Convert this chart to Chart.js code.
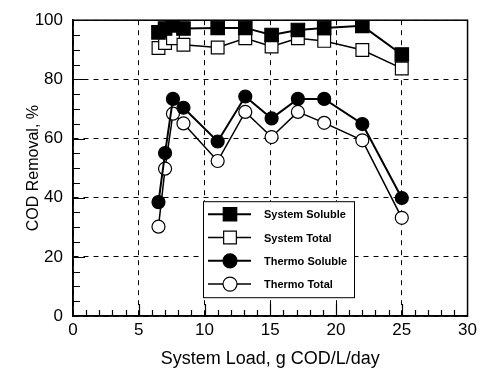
<!DOCTYPE html>
<html>
<head>
<meta charset="utf-8">
<script src="https://cdn.jsdelivr.net/npm/chart.js@4.4.1/dist/chart.umd.min.js"></script>
<style>
  html, body { margin: 0; padding: 0; background: #fff; }
  #wrap { width: 481px; height: 370px; position: relative; }
</style>
</head>
<body>
<div id="wrap"><canvas id="chart"></canvas></div>
<script>
// Load (x) and COD removal (%) series
const loads = [6.5, 7.0, 7.6, 8.4, 11.0, 13.1, 15.1, 17.1, 19.1, 22.0, 25.0];
const systemSoluble = [95.9, 97.2, 98.3, 97.2, 97.4, 97.4, 95.0, 96.7, 97.4, 98.1, 88.4];
const systemTotal   = [90.6, 92.3, 93.9, 91.7, 90.8, 93.9, 91.1, 93.9, 93.0, 89.9, 83.7];
const thermoSoluble = [38.5, 55.1, 73.4, 70.4, 59.0, 74.2, 66.8, 73.4, 73.4, 64.9, 39.9];
const thermoTotal   = [30.2, 49.8, 68.4, 65.1, 52.4, 69.0, 60.5, 69.0, 65.3, 59.4, 33.2];
const xTicks = [0, 5, 10, 15, 20, 25, 30];
const yTicks = [0, 20, 40, 60, 80, 100];

function pts(vals) {
  return vals.map(function(v, i) { return { x: loads[i], y: v }; });
}

const FONT = "'Liberation Sans', Arial, sans-serif";

// Inward tick marks on left and bottom axes
const innerTicks = {
  id: 'innerTicks',
  afterDraw: function(chart) {
    const ctx = chart.ctx;
    const a = chart.chartArea;
    const xs = chart.scales.x, ys = chart.scales.y;
    ctx.save();
    ctx.strokeStyle = '#000';
    ctx.lineWidth = 1.2;
    ctx.beginPath();
    for (let v = 1; v < 30; v++) {
      const px = Math.round(xs.getPixelForValue(v)) + 0.5;
      const len = v % 5 === 0 ? 12 : 6;
      ctx.moveTo(px, a.bottom);
      ctx.lineTo(px, a.bottom - len);
    }
    for (let v = 5; v < 100; v += 5) {
      const py = Math.round(ys.getPixelForValue(v)) + 0.5;
      const len = v % 20 === 0 ? 12 : 7;
      ctx.moveTo(a.left, py);
      ctx.lineTo(a.left + len, py);
    }
    ctx.stroke();
    ctx.restore();
  }
};

// Boxed legend inside the plot
const boxLegend = {
  id: 'boxLegend',
  afterDraw: function(chart) {
    const ctx = chart.ctx;
    const a = chart.chartArea;
    const x0 = a.left + 130, y0 = a.top + 181, w = 151, h = 96;
    ctx.save();
    ctx.fillStyle = '#fff';
    ctx.fillRect(x0, y0, w, h);
    ctx.strokeStyle = '#000';
    ctx.lineWidth = 1;
    ctx.strokeRect(x0 + 0.5, y0 + 0.5, w, h);
    chart.data.datasets.forEach(function(ds, i) {
      const cy = y0 + 13 + i * 23.3;
      ctx.strokeStyle = '#000';
      ctx.lineWidth = ds.borderWidth;
      ctx.beginPath();
      ctx.moveTo(x0 + 5, cy);
      ctx.lineTo(x0 + 48, cy);
      ctx.stroke();
      ctx.fillStyle = ds.pointBackgroundColor;
      ctx.strokeStyle = '#000';
      ctx.lineWidth = 1.2;
      ctx.beginPath();
      if (ds.pointStyle === 'rect') {
        const s = ds.pointRadius * Math.SQRT1_2;
        ctx.rect(x0 + 27 - s, cy - s, 2 * s, 2 * s);
      } else {
        ctx.arc(x0 + 27, cy, ds.pointRadius + 0.5, 0, Math.PI * 2);
      }
      ctx.fill();
      ctx.stroke();
      ctx.fillStyle = '#000';
      ctx.font = 'bold 11px ' + FONT;
      ctx.textBaseline = 'middle';
      ctx.fillText(ds.label, x0 + 61, cy + 1);
    });
    ctx.restore();
  }
};

function series(label, vals, style, fill, radius, width) {
  return {
    label: label,
    data: pts(vals),
    showLine: true,
    borderColor: '#000',
    borderWidth: width,
    pointStyle: style,
    pointRadius: radius,
    pointBorderWidth: 1.2,
    pointBorderColor: '#000',
    pointBackgroundColor: fill,
    tension: 0
  };
}

new Chart(document.getElementById('chart'), {
  type: 'scatter',
  data: {
    datasets: [
      series('System Soluble', systemSoluble, 'rect', '#000', 9.5, 2),
      series('System Total', systemTotal, 'rect', '#fff', 9, 1.5),
      series('Thermo Soluble', thermoSoluble, 'circle', '#000', 6.5, 2),
      series('Thermo Total', thermoTotal, 'circle', '#fff', 6.5, 1.5)
    ]
  },
  options: {
    responsive: true,
    maintainAspectRatio: false,
    animation: false,
    layout: { padding: { top: 15, right: 12, left: 24, bottom: 0 } },
    plugins: {
      legend: { display: false },
      tooltip: { enabled: false }
    },
    scales: {
      x: {
        type: 'linear',
        min: 0, max: 30,
        afterBuildTicks: function(s) { s.ticks = xTicks.map(function(v) { return { value: v }; }); },
        afterFit: function(s) { s.height = 54; },
        ticks: { color: '#000', font: { family: FONT, size: 17 }, padding: 4, maxRotation: 0 },
        grid: { color: '#000', lineWidth: 1, drawTicks: false, tickLength: 0 },
        border: { color: '#000', width: 1.5, dash: [5, 5] },
        title: {
          display: true, text: 'System Load, g COD/L/day', color: '#000',
          font: { family: FONT, size: 18 }, padding: { top: 0, bottom: 0 }
        }
      },
      y: {
        min: 0, max: 100,
        afterBuildTicks: function(s) { s.ticks = yTicks.map(function(v) { return { value: v }; }); },
        afterFit: function(s) { s.width = 49; },
        ticks: { color: '#000', font: { family: FONT, size: 17 }, padding: 10 },
        grid: { color: '#000', lineWidth: 1, drawTicks: false, tickLength: 0 },
        border: { color: '#000', width: 1.5, dash: [5, 5] },
        title: {
          display: true, text: 'COD Removal, %', color: '#000',
          font: { family: FONT, size: 16 }, padding: { top: 0, bottom: 0 }
        }
      }
    }
  },
  plugins: [innerTicks, boxLegend, {
    id: 'frame',
    afterDraw: function(chart) {
      const a = chart.chartArea, ctx = chart.ctx;
      ctx.save();
      ctx.strokeStyle = '#000';
      ctx.lineWidth = 1.5;
      ctx.strokeRect(a.left, a.top, a.right - a.left, a.bottom - a.top);
      ctx.restore();
    }
  }]
});
</script>
</body>
</html>
